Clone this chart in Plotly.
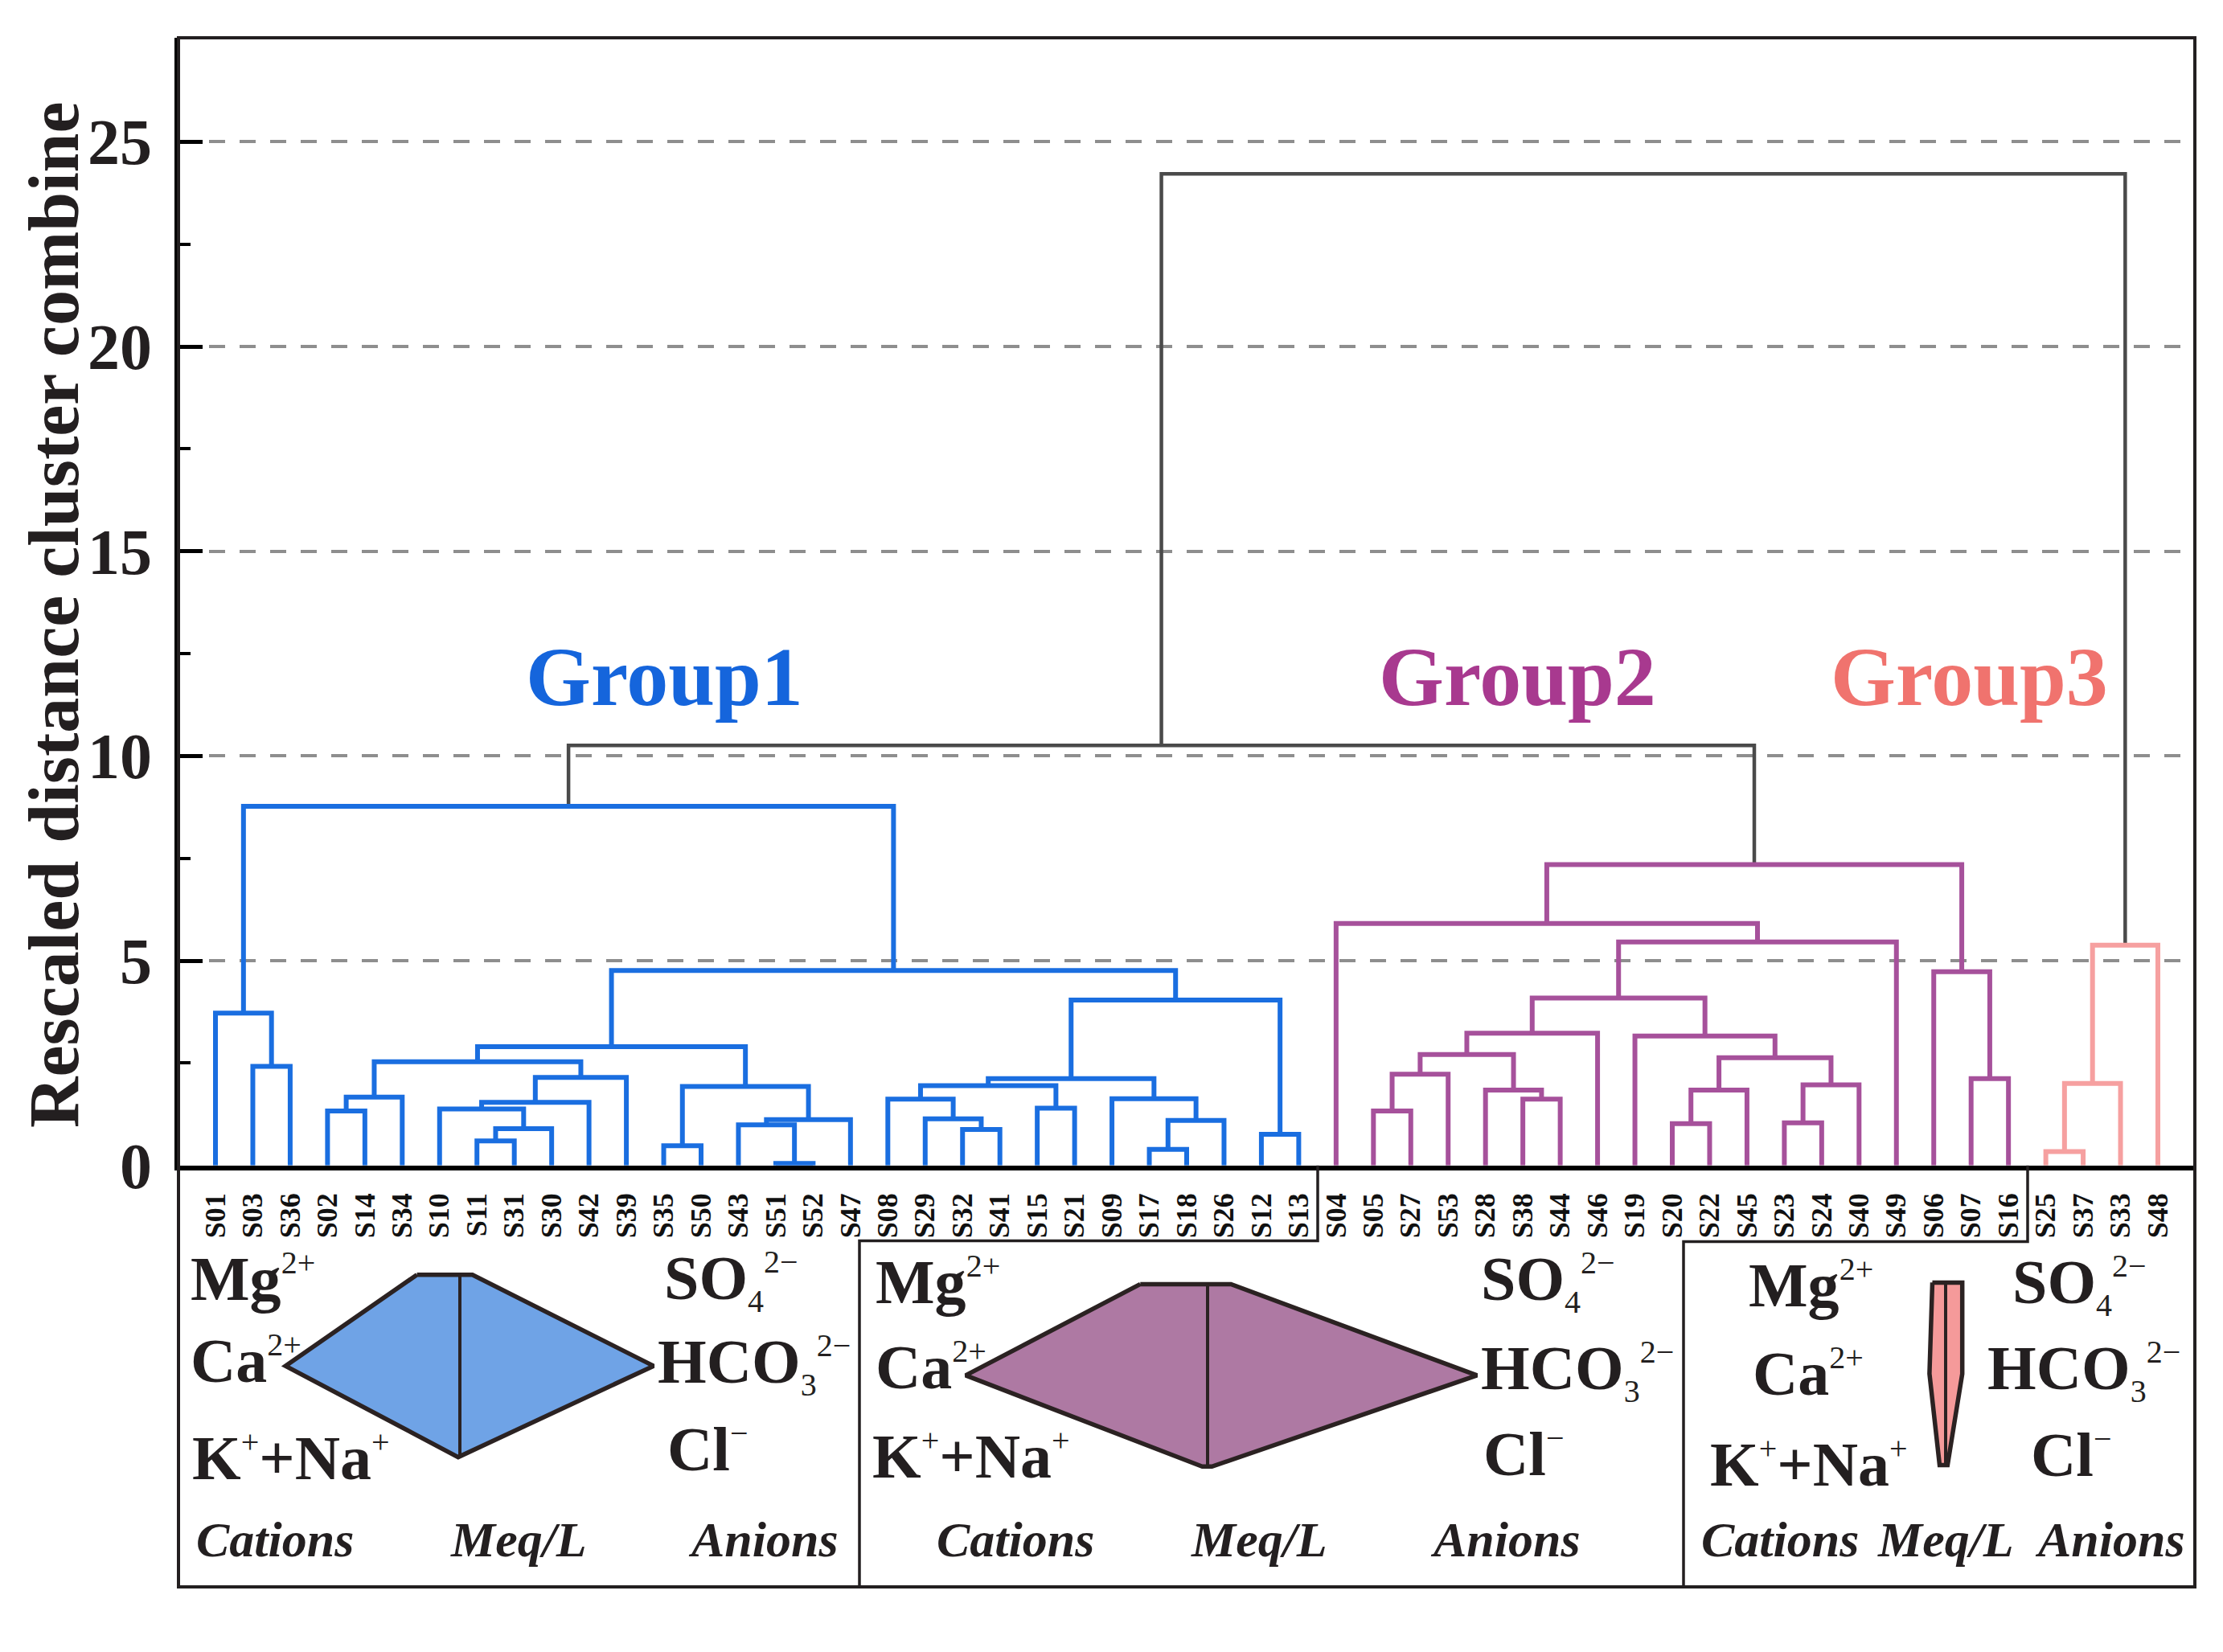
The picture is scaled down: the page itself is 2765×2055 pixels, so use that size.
import plotly.graph_objects as go

W, H = 2765, 2055
OFF = 8  # page body margin compensation (px)

# ---------------- data ----------------
leaves = ["S01", "S03", "S36", "S02", "S14", "S34", "S10", "S11", "S31", "S30",
          "S42", "S39", "S35", "S50", "S43", "S51", "S52", "S47", "S08", "S29",
          "S32", "S41", "S15", "S21", "S09", "S17", "S18", "S26", "S12", "S13",
          "S04", "S05", "S27", "S53", "S28", "S38", "S44", "S46", "S19", "S20",
          "S22", "S45", "S23", "S24", "S40", "S49", "S06", "S07", "S16",
          "S25", "S37", "S33", "S48"]

merge_id = ["m1", "m2", "m3", "m4", "m5", "m6", "m7", "m8", "m9", "m10",
            "m11", "m12", "m13", "m14", "m15", "m16", "m17", "m18", "m19", "m20",
            "m21", "m22", "m23", "m24", "m25", "m26", "m27", "m28", "m29",
            "n1", "n2", "n3", "n4", "n5", "n6", "n7", "n8", "n9", "n10",
            "n11", "n12", "n13", "n14", "n15", "n16", "n17", "n18",
            "p1", "p2", "p3", "t1", "t2"]
merge_a = ["S03", "S01", "S02", "m3", "S11", "m5", "S10", "m7", "m8", "m4",
           "S35", "S51", "S43", "m13", "m11", "m10", "S32", "S29", "S08", "S15",
           "m19", "S17", "m22", "S09", "m21", "S12", "m25", "m16", "m2",
           "S05", "n1", "S38", "S28", "n2", "n5", "S20", "n7", "S23", "n9",
           "n8", "S19", "n6", "n13", "S04", "S07", "S06", "n15",
           "S25", "p1", "p2", "m29", "t1"]
merge_b = ["S36", "m1", "S14", "S34", "S31", "S30", "m6", "S42", "S39", "m9",
           "S50", "S52", "m12", "S47", "m14", "m15", "S41", "m17", "m18", "S21",
           "m20", "S18", "S26", "m23", "m24", "S13", "m26", "m27", "m28",
           "S27", "S53", "S44", "n3", "n4", "S46", "S22", "S45", "S24", "S40",
           "n10", "n11", "n12", "S49", "n14", "S16", "n16", "n17",
           "S37", "S33", "S48", "n18", "p3"]
merge_height = [2.42, 3.72, 1.33, 1.67, 0.60, 0.90, 1.38, 1.54, 2.15, 2.53,
                0.48, 0.05, 0.99, 1.12, 1.93, 2.90, 0.88, 1.14, 1.62, 1.40,
                1.95, 0.39, 1.10, 1.63, 2.12, 0.76, 4.04, 4.76, 8.77,
                1.33, 2.23, 1.62, 1.84, 2.71, 3.23, 1.02, 1.84, 1.04, 1.97,
                2.63, 3.16, 4.09, 5.46, 5.91, 2.12, 4.73, 7.35,
                0.34, 2.00, 5.38, 10.26, 24.22]
merge_group = ["G1"] * 29 + ["G2"] * 18 + ["G3"] * 3 + ["top"] * 2

y_ticks = [0, 5, 10, 15, 20, 25]
y_minor = [2.5, 7.5, 12.5, 17.5, 22.5]
group_names = ["Group1", "Group2", "Group3"]

# Stiff diagram ions (rows: bottom, middle, top)
cation_names = ["K", "Ca", "Mg"]
anion_names = ["Cl", "HCO3", "SO4"]
g1_cat = [0.07, 7.23, 1.78]
g1_an = [0.03, 8.03, 0.52]
g2_cat = [0.22, 10.03, 2.79]
g2_an = [0.18, 11.17, 0.97]
g3_cat = [0.25, 0.67, 0.55]
g3_an = [0.08, 0.69, 0.69]

# ---------------- styles ----------------
col = {"G1": "#1a6ee0", "G2": "#a6519b", "G3": "#f6a0a0", "top": "#4a4a4a"}
lw = {"G1": 6, "G2": 6, "G3": 6, "top": 4.5}
txt_col = ["#1565dc", "#a8398f", "#f0736e"]
fill_col = ["#6fa3e6", "#ae79a3", "#f59a9a"]
dark = "#231f20"
FONT = "Liberation Serif"

SUPS = "font-size:40px;font-weight:normal"


def sup(t):
    return "<sup><span style='%s'>%s</span></sup>" % (SUPS, t)


def sub(t):
    return "<sub><span style='%s'>%s</span></sub>" % (SUPS, t)


ion_html = {
    "K": "K" + sup("+") + "+Na" + sup("+"),
    "Ca": "Ca" + sup("2+"),
    "Mg": "Mg" + sup("2+"),
    "Cl": "Cl" + sup("−"),
    "HCO3": "HCO" + sub("3") + sup("2−"),
    "SO4": "SO" + sub("4") + sup("2−"),
}

# ---------------- dendrogram geometry ----------------
xpos = {name: i for i, name in enumerate(leaves)}
hgt = {name: 0.0 for name in leaves}
for mid, a, b, h in zip(merge_id, merge_a, merge_b, merge_height):
    xpos[mid] = (xpos[a] + xpos[b]) / 2.0
    hgt[mid] = h

fig = go.Figure()
for g in ["top", "G1", "G2", "G3"]:
    xs, ys = [], []
    for mid, a, b, h, gg in zip(merge_id, merge_a, merge_b, merge_height, merge_group):
        if gg != g:
            continue
        xs += [xpos[a], xpos[a], xpos[b], xpos[b], None]
        ys += [hgt[a], h, h, hgt[b], None]
    fig.add_trace(go.Scatter(x=xs, y=ys, mode="lines",
                             line=dict(color=col[g], width=lw[g]),
                             hoverinfo="skip", showlegend=False))

# group labels (data coords)
group_pos_x = [12.03, 34.85, 46.96]
for name, gx, c in zip(group_names, group_pos_x, txt_col):
    fig.add_annotation(x=gx, y=11.95, xref="x", yref="y", text=name, showarrow=False,
                       font=dict(family=FONT, size=104, color=c, weight="bold"),
                       xanchor="center", yanchor="middle")


def P(x, y):
    return (x - OFF) / W, 1 - (y - OFF) / H


# ---------------- stiff diagrams ----------------
S = 30.0    # px per meq/L unit
RS = 116.0  # px per row
panels = [
    dict(cx=572, cy=1737, cat=g1_cat, an=g1_an),
    dict(cx=1502, cy=1749, cat=g2_cat, an=g2_an),
    dict(cx=2420, cy=1747, cat=g3_cat, an=g3_an),
]
for i, p in enumerate(panels):
    n = i + 2
    xa = "x%d" % n
    ya = "y%d" % n
    cx = p["cx"] - OFF
    cy = p["cy"] - OFF
    fig.update_layout(**{
        "xaxis%d" % n: dict(domain=[0, 1], range=[-cx / S, (W - cx) / S],
                            visible=False, anchor=ya, fixedrange=True),
        "yaxis%d" % n: dict(domain=[0, 1], range=[(cy - H) / RS, cy / RS],
                            visible=False, anchor=xa, fixedrange=True),
    })
    px_ = [-p["cat"][2], p["an"][2], p["an"][1], p["an"][0], -p["cat"][0], -p["cat"][1], -p["cat"][2]]
    py_ = [1, 1, 0, -1, -1, 0, 1]
    fig.add_trace(go.Scatter(x=px_, y=py_, xaxis=xa, yaxis=ya, mode="lines", fill="toself",
                             fillcolor=fill_col[i], line=dict(color="#2b2222", width=5.5),
                             hoverinfo="skip", showlegend=False))
    fig.add_trace(go.Scatter(x=[0, 0], y=[1, -1], xaxis=xa, yaxis=ya, mode="lines",
                             line=dict(color="#2b2222", width=4),
                             hoverinfo="skip", showlegend=False))

# ---------------- axes ----------------
fig.update_layout(
    width=W, height=H, margin=dict(l=0, r=0, t=0, b=0),
    paper_bgcolor="white", plot_bgcolor="rgba(0,0,0,0)", showlegend=False,
    xaxis=dict(domain=[(222 - OFF) / W, (2730 - OFF) / W], range=[-0.99, 52.99],
               tickmode="array", tickvals=list(range(len(leaves))), ticktext=leaves,
               tickangle=-90, ticks="", showgrid=False, zeroline=False,
               tickfont=dict(family=FONT, size=36, color="#111111", weight="bold"),
               showline=True, linewidth=6, linecolor="black", ticklabelstandoff=14,
               fixedrange=True),
    yaxis=dict(domain=[1 - (1482 - OFF) / H, 1 - (48 - OFF) / H], range=[0, 27.54],
               tickmode="array", tickvals=y_ticks, ticktext=[str(v) for v in y_ticks],
               ticks="inside", ticklen=30, tickwidth=5, tickcolor="black",
               tickfont=dict(family=FONT, size=80, color=dark, weight="bold"),
               showgrid=True, gridcolor="#8e8e8e", gridwidth=3.5, griddash="20px,18px",
               zeroline=False, showline=True, linewidth=5, linecolor="black",
               minor=dict(ticks="inside", ticklen=15, tickwidth=4, tickcolor="black",
                          tickvals=y_minor, showgrid=False),
               ticklabelstandoff=12, fixedrange=True),
)

# y-axis title
u, v = P(67, 782)
fig.add_annotation(x=u, y=v, xref="paper", yref="paper",
                   text="Rescaled distance cluster combine", textangle=-90, showarrow=False,
                   font=dict(family=FONT, size=88, color=dark, weight="bold"),
                   xanchor="center", yanchor="middle")

# frame and separators
x0, y0 = P(222, 2018)
x1, y1 = P(2730, 48)
fig.add_shape(type="rect", xref="paper", yref="paper", x0=x0, y0=y0, x1=x1, y1=y1,
              line=dict(color=dark, width=4), layer="above")


def path(pts):
    s = ""
    for k, (a, b) in enumerate(pts):
        uu, vv = P(a, b)
        s += ("M" if k == 0 else " L") + " %.6f,%.6f" % (uu, vv)
    return s


fig.add_shape(type="path", xref="paper", yref="paper",
              path=path([(1639, 1482), (1639, 1578), (1069, 1578), (1069, 2018)]),
              line=dict(color=dark, width=3.5), layer="above")
fig.add_shape(type="path", xref="paper", yref="paper",
              path=path([(2522, 1482), (2522, 1579), (2094, 1579), (2094, 2018)]),
              line=dict(color=dark, width=3.5), layer="above")

# ion labels: left x and cap-centre y (px)
ion_pos = [
    dict(cat=[(237, 1862), (235, 1738), (235, 1634)], an=[(828, 1851), (816, 1743), (824, 1637)],
         foot=[342, 645, 950]),
    dict(cat=[(1083, 1860), (1087, 1746), (1087, 1638)], an=[(1843, 1857), (1840, 1751), (1840, 1638)],
         foot=[1263, 1566, 1872]),
    dict(cat=[(2125, 1870), (2178, 1755), (2173, 1642)], an=[(2524, 1858), (2470, 1752), (2501, 1642)],
         foot=[2214, 2420, 2624]),
]
foot_words = ["Cations", "Meq/L", "Anions"]
for ip in ion_pos:
    for nm, (ax_, ay_) in zip(cation_names, ip["cat"]):
        u, v = P(ax_, ay_ - 8)
        fig.add_annotation(x=u, y=v, xref="paper", yref="paper", text=ion_html[nm], showarrow=False,
                           font=dict(family=FONT, size=78, color=dark, weight="bold"),
                           xanchor="left", yanchor="middle")
    for nm, (ax_, ay_) in zip(anion_names, ip["an"]):
        u, v = P(ax_, ay_ - 8)
        fig.add_annotation(x=u, y=v, xref="paper", yref="paper", text=ion_html[nm], showarrow=False,
                           font=dict(family=FONT, size=78, color=dark, weight="bold"),
                           xanchor="left", yanchor="middle")
    for w_, fx in zip(foot_words, ip["foot"]):
        u, v = P(fx, 1958)
        fig.add_annotation(x=u, y=v, xref="paper", yref="paper", text=w_, showarrow=False,
                           font=dict(family=FONT, size=62, color=dark, weight="bold", style="italic"),
                           xanchor="center", yanchor="middle")

fig.write_html("out.html")
